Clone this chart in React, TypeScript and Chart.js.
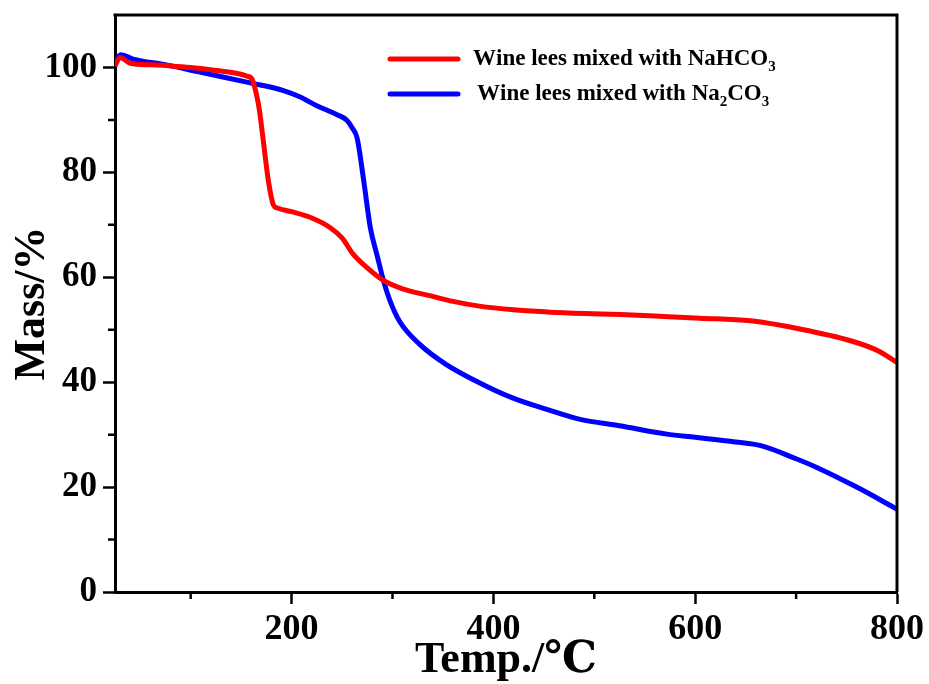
import { useEffect, useRef } from 'react';
import { Chart, registerables } from 'chart.js';

Chart.register(...registerables);

// --- Data ---
const redTemps = [25, 30, 40, 60, 80, 100, 126, 145, 155, 161, 165, 168, 172, 177, 182, 186, 200, 220, 238, 250, 261, 275, 291, 310, 337, 360, 386, 420, 453, 490, 526, 560, 605, 655, 705, 754, 780, 800];
const redMass = [100.3, 101.9, 100.8, 100.5, 100.3, 100, 99.4, 98.9, 98.4, 97.7, 95, 92, 86, 78.4, 73.8, 73.2, 72.5, 71.3, 69.5, 67.5, 64.4, 61.8, 59.4, 57.8, 56.5, 55.4, 54.5, 53.8, 53.4, 53.1, 52.9, 52.6, 52.2, 51.7, 50.1, 47.9, 46.1, 43.8];

const blueTemps = [25, 31, 43, 76, 109, 158, 192, 208, 225, 245, 255, 260, 265, 271.5, 278, 285, 291, 297, 307, 327, 353, 386, 419, 453, 486, 525, 572, 600, 640, 665, 700, 721, 760, 800];
const blueMass = [101.3, 102.4, 101.6, 100.5, 99.1, 97.1, 95.6, 94.4, 92.7, 91, 89.9, 88.5, 86.5, 78.4, 69.5, 64, 59.4, 55.8, 51.6, 47.2, 43.4, 39.9, 37, 34.8, 32.9, 31.7, 30.1, 29.5, 28.6, 27.9, 25.4, 23.7, 20, 15.8];

const seriesLabels = ['Wine lees mixed with NaHCO₃', 'Wine lees mixed with Na₂CO₃'];
const seriesColors = ['#ff0000', '#0000ff'];

const xMin = 25;
const xMax = 800;
const xTickValues = [100, 200, 300, 400, 500, 600, 700, 800];
const xLabelValues = [200, 400, 600, 800];
const yMin = 0;
const yMax = 110;
const yTickValues = [0, 10, 20, 30, 40, 50, 60, 70, 80, 90, 100];
const yLabelValues = [0, 20, 40, 60, 80, 100];

const xTitle = 'Temp./℃';
const yTitle = 'Mass/%';

const FONT = "'Liberation Serif', 'Times New Roman', 'DejaVu Serif', serif";

const subMap: Record<string, string> = { '₀': '0', '₁': '1', '₂': '2', '₃': '3', '₄': '4', '₅': '5', '₆': '6', '₇': '7', '₈': '8', '₉': '9' };

const frameAndMinorPlugin = {
  id: 'frameAndMinor',
  afterDraw(chart: any) {
    const { ctx, chartArea } = chart;
    const xs = chart.scales.x;
    const ys = chart.scales.y;
    ctx.save();
    ctx.strokeStyle = '#000';
    ctx.lineWidth = 3;
    ctx.beginPath();
    ctx.moveTo(chartArea.left - 1.5, chartArea.top);
    ctx.lineTo(chartArea.right, chartArea.top);
    ctx.lineTo(chartArea.right, chartArea.bottom);
    ctx.stroke();
    // minor ticks
    ctx.lineWidth = 2.5;
    ctx.beginPath();
    xTickValues.filter(v => !xLabelValues.includes(v)).forEach(v => {
      const px = xs.getPixelForValue(v);
      ctx.moveTo(px, chartArea.bottom);
      ctx.lineTo(px, chartArea.bottom + 7);
    });
    yTickValues.filter(v => !yLabelValues.includes(v)).forEach(v => {
      const py = ys.getPixelForValue(v);
      ctx.moveTo(chartArea.left, py);
      ctx.lineTo(chartArea.left - 7, py);
    });
    ctx.stroke();
    ctx.restore();
  },
};

const legendPlugin = {
  id: 'customLegend',
  afterDraw(chart: any) {
    const { ctx } = chart;
    const rows = [
      { y: 59, lineX: 390, textX: 473 },
      { y: 94, lineX: 390, textX: 477 },
    ];
    ctx.save();
    chart.data.datasets.forEach((ds: any, i: number) => {
      const r = rows[i];
      ctx.strokeStyle = ds.borderColor;
      ctx.lineWidth = 5;
      ctx.lineCap = 'round';
      ctx.beginPath();
      ctx.moveTo(r.lineX, r.y);
      ctx.lineTo(r.lineX + 68, r.y);
      ctx.stroke();
      ctx.fillStyle = '#000';
      ctx.textBaseline = 'middle';
      let x = r.textX;
      const text: string = ds.label;
      for (const ch of text) {
        if (subMap[ch]) {
          ctx.font = `bold 15px ${FONT}`;
          ctx.fillText(subMap[ch], x, r.y + 8);
          x += ctx.measureText(subMap[ch]).width;
        } else {
          ctx.font = `bold 23px ${FONT}`;
          ctx.fillText(ch, x, r.y);
          x += ctx.measureText(ch).width;
        }
      }
    });
    ctx.restore();
  },
};

export default function App() {
  const canvasRef = useRef<HTMLCanvasElement | null>(null);

  useEffect(() => {
    document.body.style.margin = '0';
    const canvas = canvasRef.current;
    if (!canvas) return;
    const chart = new Chart(canvas, {
      type: 'line',
      data: {
        datasets: [
          {
            label: seriesLabels[0],
            data: redTemps.map((t, i) => ({ x: t, y: redMass[i] })),
            borderColor: seriesColors[0],
            backgroundColor: seriesColors[0],
            borderWidth: 5,
            pointRadius: 0,
            cubicInterpolationMode: 'monotone',
            fill: false,
          },
          {
            label: seriesLabels[1],
            data: blueTemps.map((t, i) => ({ x: t, y: blueMass[i] })),
            borderColor: seriesColors[1],
            backgroundColor: seriesColors[1],
            borderWidth: 5,
            pointRadius: 0,
            cubicInterpolationMode: 'monotone',
            fill: false,
          },
        ],
      },
      options: {
        animation: false,
        responsive: false,
        devicePixelRatio: 1,
        layout: { padding: { top: 15, right: 32, left: 0, bottom: 0 } },
        plugins: {
          legend: { display: false },
          tooltip: { enabled: false },
        },
        scales: {
          x: {
            type: 'linear',
            min: xMin,
            max: xMax,
            afterFit: (s: any) => { s.height = 92; s.paddingLeft = 0; s.paddingRight = 0; },
            afterBuildTicks: (s: any) => { s.ticks = xTickValues.map(v => ({ value: v })); },
            border: { display: true, color: '#000', width: 3 },
            grid: {
              drawOnChartArea: false,
              drawTicks: true,
              tickLength: 12,
              tickWidth: 2.5,
              tickColor: (c: any) => (c.tick && xLabelValues.includes(c.tick.value) ? '#000' : 'rgba(0,0,0,0)'),
            },
            ticks: {
              autoSkip: false,
              maxRotation: 0,
              padding: 4,
              color: '#000',
              font: { family: FONT, size: 36, weight: 'bold' },
              callback: (v: any) => (xLabelValues.includes(Number(v)) ? String(v) : ''),
            },
            title: {
              display: true,
              text: xTitle,
              color: '#000',
              font: { family: FONT, size: 44, weight: 'bold', lineHeight: 1 },
              padding: { top: 0, bottom: 1 },
            },
          },
          y: {
            type: 'linear',
            min: yMin,
            max: yMax,
            afterFit: (s: any) => { s.width = 115; s.paddingTop = 0; s.paddingBottom = 0; },
            afterBuildTicks: (s: any) => { s.ticks = yTickValues.map(v => ({ value: v })); },
            border: { display: true, color: '#000', width: 3 },
            grid: {
              drawOnChartArea: false,
              drawTicks: true,
              tickLength: 12,
              tickWidth: 2.5,
              tickColor: (c: any) => (c.tick && yLabelValues.includes(c.tick.value) ? '#000' : 'rgba(0,0,0,0)'),
            },
            ticks: {
              autoSkip: false,
              padding: 6,
              color: '#000',
              font: { family: FONT, size: 35, weight: 'bold' },
              callback: (v: any) => (yLabelValues.includes(Number(v)) ? String(v) : ''),
            },
            title: {
              display: true,
              text: yTitle,
              color: '#000',
              font: { family: FONT, size: 44, weight: 'bold', lineHeight: 1 },
              padding: { top: 11, bottom: 0 },
            },
          },
        },
      },
      plugins: [frameAndMinorPlugin, legendPlugin],
    } as any);
    return () => chart.destroy();
  }, []);

  return (
    <div style={{ width: 929, height: 684 }}>
      <canvas ref={canvasRef} width={929} height={684} style={{ display: 'block' }} />
    </div>
  );
}
